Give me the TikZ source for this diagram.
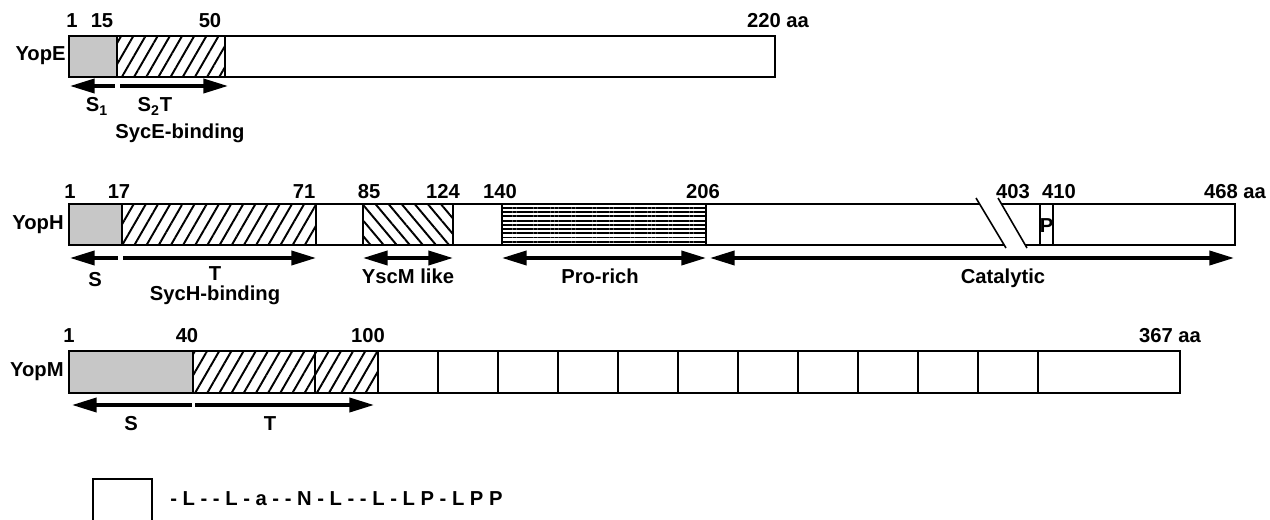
\documentclass[tikz,border=0pt]{standalone}
\usepackage{fontspec}
\setmainfont{Liberation Sans}
\usetikzlibrary{arrows.meta, patterns.meta}

\begin{document}
\begin{tikzpicture}[x=0.02cm, y=-0.02cm,
  >={Triangle[length=14pt,width=8pt]},
  every node/.style={font=\bfseries\fontsize{11.5}{13}\selectfont, inner sep=0pt},
  seg/.style={draw, line width=1pt},
  sig/.style={seg, fill=black!22},
  chap/.style={seg, pattern={Lines[angle=60,distance=6pt,line width=1.1pt]}},
  yscm/.style={seg, pattern={Lines[angle=-50,distance=5.7pt,line width=1.1pt]}},
  prorich/.style={seg, pattern={Lines[angle=0,distance=2.4pt,line width=1.1pt]}},
  span/.style={line width=2pt},
  num/.style={anchor=base},
  tag/.style={anchor=east}
]
  \useasboundingbox (0,0) rectangle (1270,520);

  % YopE
  \node[tag] (yopE) at (66,56) {YopE};
  \draw[sig] (69,36) rectangle (117,77);
  \draw[chap] (117,36) rectangle (225,77);
  \draw[seg] (225,36) rectangle (775,77);
  \node[num] (e1) at (72,28) {1};
  \node[num] (e15) at (102,28) {15};
  \node[num] (e50) at (210,28) {50};
  \node[num] (e220) at (778,28) {220 aa};
  \path (70,86) coordinate (es1a) (115,86) coordinate (es1b)
        (120,86) coordinate (es2a) (228,86) coordinate (es2b);
  \draw[span, <-] (es1a) -- (es1b);
  \draw[span, ->] (es2a) -- (es2b);
  \node[num] (eS1) at (97,112) {S\textsubscript{1}};
  \node[num] (eS2T) at (155,112) {S\textsubscript{2}T};
  \node[num] (eSyc) at (180,139) {SycE-binding};

  % YopH
  \node[tag] (yopH) at (64,225) {YopH};
  \draw[sig] (69,204) rectangle (122,245);
  \draw[chap] (122,204) rectangle (316,245);
  \draw[seg] (316,204) rectangle (363,245);
  \draw[yscm] (363,204) rectangle (453,245);
  \draw[seg] (453,204) rectangle (502,245);
  \draw[prorich] (502,204) rectangle (706,245);
  \draw[seg] (706,204) rectangle (1040,245);
  \draw[seg] (1040,204) rectangle (1053,245);
  \draw[seg] (1053,204) rectangle (1235,245);
  \node (hP) at (1046.5,226) {P};
  % break in the sequence
  \fill[white] (976,198) -- (998,198) -- (1027,248) -- (1006,248) -- cycle;
  \draw[line width=0.9pt] (976,198) -- (1006,248);
  \draw[line width=0.9pt] (998,198) -- (1027,248);
  \node[num] (h1) at (70,198) {1};
  \node[num] (h17) at (119,198) {17};
  \node[num] (h71) at (304,198) {71};
  \node[num] (h85) at (369,198) {85};
  \node[num] (h124) at (443,198) {124};
  \node[num] (h140) at (500,198) {140};
  \node[num] (h206) at (703,198) {206};
  \node[num] (h403) at (1013,198) {403};
  \node[num] (h410) at (1059,198) {410};
  \node[num] (h468) at (1235,198) {468 aa};
  \path (70,258) coordinate (hsa) (118,258) coordinate (hsb)
        (123,258) coordinate (hta) (316,258) coordinate (htb)
        (363,258) coordinate (hya) (453,258) coordinate (hyb)
        (502,258) coordinate (hpa) (706,258) coordinate (hpb)
        (710,258) coordinate (hca) (1234,258) coordinate (hcb);
  \draw[span, <-] (hsa) -- (hsb);
  \draw[span, ->] (hta) -- (htb);
  \draw[span, <->] (hya) -- (hyb);
  \draw[span, <->] (hpa) -- (hpb);
  \draw[span, <->] (hca) -- (hcb);
  \node[num] (hS) at (95,286) {S};
  \node[num] (hT) at (215,280) {T};
  \node[num] (hSyc) at (215,300) {SycH-binding};
  \node[num] (hYsc) at (408,283) {YscM like};
  \node[num] (hPro) at (600,283) {Pro-rich};
  \node[num] (hCat) at (1003,283) {Catalytic};

  % YopM
  \node[tag] (yopM) at (64,372) {YopM};
  \draw[sig] (69,351) rectangle (193,393);
  \draw[chap] (193,351) rectangle (315,393);
  \draw[chap] (315,351) rectangle (378,393);
  \foreach \i in {0,...,10}
    \draw[seg] ({378+60*\i},351) rectangle ++(60,42);
  \draw[seg] (1038,351) rectangle (1180,393);
  \node[num] (m1) at (69,342) {1};
  \node[num] (m40) at (187,342) {40};
  \node[num] (m100) at (368,342) {100};
  \node[num] (m367) at (1170,342) {367 aa};
  \path (72,405) coordinate (msa) (192,405) coordinate (msb)
        (195,405) coordinate (mta) (374,405) coordinate (mtb);
  \draw[span, <-] (msa) -- (msb);
  \draw[span, ->] (mta) -- (mtb);
  \node[num] (mS) at (131,430) {S};
  \node[num] (mT) at (270,430) {T};

  % repeat unit
  \draw[seg] (93,521) -- (93,479) -- (152,479) -- (152,521);
  \node[anchor=base west] (lrr) at (170,505) {- L - - L - a - - N - L - - L - L P - L P P};
\end{tikzpicture}
\end{document}
